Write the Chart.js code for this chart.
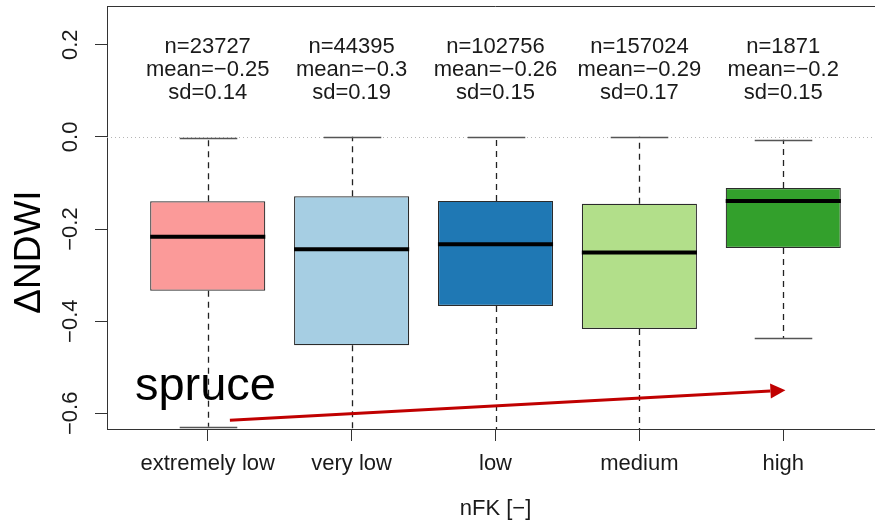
<!DOCTYPE html>
<html>
<head>
<meta charset="utf-8">
<script src="https://cdn.jsdelivr.net/npm/chart.js@4/dist/chart.umd.min.js"></script>
<style>
  html, body { margin: 0; padding: 0; overflow: hidden; background: #fff; }
  canvas { display: block; }
</style>
</head>
<body>
<canvas id="c" width="893" height="524"></canvas>
<script>
// nFK classes and summary statistics of ΔNDWI per class
const categories = ['extremely low', 'very low', 'low', 'medium', 'high'];
const counts = [23727, 44395, 102756, 157024, 1871];
const means = [-0.25, -0.3, -0.26, -0.29, -0.2];
const sds = [0.14, 0.19, 0.15, 0.17, 0.15];

// box-and-whisker values
const whiskerHigh = [-0.003, 0.0, 0.0, 0.0, -0.006];
const q3 = [-0.140, -0.129, -0.139, -0.145, -0.111];
const medians = [-0.217, -0.244, -0.233, -0.251, -0.139];
const q1 = [-0.334, -0.452, -0.367, -0.417, -0.241];
const whiskerLow = [-0.629, -0.720, -0.700, -0.710, -0.437];

const yTicks = [-0.6, -0.4, -0.2, 0.0, 0.2];
const boxColors = ['#FB9A99', '#A6CEE3', '#1F78B4', '#B2DF8A', '#33A02C'];

const FONT = "'Liberation Sans', Arial, sans-serif";
const INK = '#1a1a1a';
const AXIS = '#333333';

const fmt = v => (v < 0 ? '\u2212' : '') + String(Math.abs(v));

const boxExtras = {
  id: 'boxExtras',
  beforeDatasetsDraw(chart) {
    const { ctx, chartArea: a, scales: { x, y } } = chart;
    ctx.save();
    ctx.beginPath();
    ctx.rect(a.left, a.top, a.right - a.left, a.bottom - a.top);
    ctx.clip();

    // dotted reference line at zero
    const y0 = Math.round(y.getPixelForValue(0)) + 0.5;
    ctx.strokeStyle = '#b5b5b5';
    ctx.lineWidth = 1;
    ctx.setLineDash([1, 3]);
    ctx.beginPath();
    ctx.moveTo(a.left, y0);
    ctx.lineTo(a.right, y0);
    ctx.stroke();

    categories.forEach((c, i) => {
      const px = Math.round(x.getPixelForValue(i + 1)) + 0.5;
      // dashed whiskers
      ctx.setLineDash([6, 5]);
      ctx.strokeStyle = '#222';
      ctx.lineWidth = 1.3;
      ctx.beginPath();
      ctx.moveTo(px, y.getPixelForValue(q3[i]));
      ctx.lineTo(px, y.getPixelForValue(whiskerHigh[i]));
      ctx.moveTo(px, y.getPixelForValue(q1[i]));
      ctx.lineTo(px, y.getPixelForValue(whiskerLow[i]));
      ctx.stroke();
      // staples
      ctx.setLineDash([]);
      ctx.strokeStyle = '#555';
      ctx.lineWidth = 1.5;
      const hw = x.getPixelForValue(i + 1.2) - x.getPixelForValue(i + 1);
      ctx.beginPath();
      [whiskerHigh[i], whiskerLow[i]].forEach(v => {
        const py = Math.round(y.getPixelForValue(v)) + 0.5;
        ctx.moveTo(px - hw, py);
        ctx.lineTo(px + hw, py);
      });
      ctx.stroke();
    });
    ctx.restore();
  },
  afterDatasetsDraw(chart) {
    const { ctx, chartArea: a, scales: { x, y } } = chart;
    ctx.save();

    // medians
    ctx.strokeStyle = '#000';
    ctx.lineWidth = 4;
    categories.forEach((c, i) => {
      const py = y.getPixelForValue(medians[i]);
      ctx.beginPath();
      ctx.moveTo(x.getPixelForValue(i + 0.6), py);
      ctx.lineTo(x.getPixelForValue(i + 1.4), py);
      ctx.stroke();
    });

    // top frame line
    ctx.strokeStyle = AXIS;
    ctx.lineWidth = 1;
    ctx.beginPath();
    ctx.moveTo(a.left, Math.round(a.top) + 0.5);
    ctx.lineTo(a.right, Math.round(a.top) + 0.5);
    ctx.stroke();

    // per-class statistics
    ctx.fillStyle = INK;
    ctx.font = `22px ${FONT}`;
    ctx.textAlign = 'center';
    ctx.textBaseline = 'alphabetic';
    const top = y.getPixelForValue(0.2) + 8.3;
    categories.forEach((c, i) => {
      const px = x.getPixelForValue(i + 1);
      ctx.fillText('n=' + counts[i], px, top);
      ctx.fillText('mean=' + fmt(means[i]), px, top + 23);
      ctx.fillText('sd=' + fmt(sds[i]), px, top + 46);
    });

    // species label
    ctx.fillStyle = '#000';
    ctx.font = `47px ${FONT}`;
    ctx.textAlign = 'left';
    ctx.fillText('spruce', x.getPixelForValue(0.494), y.getPixelForValue(-0.5714));

    // trend arrow
    const x1 = x.getPixelForValue(1.154), y1 = y.getPixelForValue(-0.615);
    const x2 = x.getPixelForValue(5.015), y2 = y.getPixelForValue(-0.550);
    const ang = Math.atan2(y2 - y1, x2 - x1);
    const head = 15, half = 7.5;
    ctx.strokeStyle = '#C00000';
    ctx.fillStyle = '#C00000';
    ctx.lineWidth = 3;
    ctx.beginPath();
    ctx.moveTo(x1, y1);
    ctx.lineTo(x2 - head * Math.cos(ang), y2 - head * Math.sin(ang));
    ctx.stroke();
    ctx.beginPath();
    ctx.moveTo(x2, y2);
    ctx.lineTo(x2 - head * Math.cos(ang) + half * Math.sin(ang), y2 - head * Math.sin(ang) - half * Math.cos(ang));
    ctx.lineTo(x2 - head * Math.cos(ang) - half * Math.sin(ang), y2 - head * Math.sin(ang) + half * Math.cos(ang));
    ctx.closePath();
    ctx.fill();

    // y axis title
    ctx.fillStyle = '#000';
    ctx.font = `37px ${FONT}`;
    ctx.textAlign = 'center';
    ctx.translate(40, y.getPixelForValue(-0.25));
    ctx.rotate(-Math.PI / 2);
    ctx.fillText('\u0394NDWI', 0, 0);
    ctx.restore();
  }
};

const gridOpts = { drawOnChartArea: false, drawTicks: true, tickLength: 12, color: AXIS, lineWidth: 1, offset: false };
const borderOpts = { display: true, color: AXIS, width: 1 };

new Chart(document.getElementById('c'), {
  type: 'bar',
  data: {
    datasets: [{
      data: categories.map((c, i) => ({ x: i + 1, y: [q1[i], q3[i]] })),
      backgroundColor: boxColors,
      borderColor: '#2b2b2b',
      borderWidth: 1.2,
      borderSkipped: false,
      categoryPercentage: 1,
      barPercentage: 0.8
    }]
  },
  options: {
    responsive: false,
    animation: false,
    devicePixelRatio: 1,
    layout: { padding: { top: 6, right: 9, left: 0, bottom: 0 } },
    plugins: { legend: { display: false }, tooltip: { enabled: false } },
    scales: {
      x: {
        type: 'linear',
        min: 0.3,
        max: 5.7,
        offset: false,
        afterBuildTicks: s => { s.ticks = categories.map((c, i) => ({ value: i + 1 })); },
        afterFit: s => { s.height = 95; s.paddingLeft = 0; s.paddingRight = 0; },
        ticks: {
          callback: v => categories[v - 1],
          font: { family: FONT, size: 22 },
          color: INK,
          padding: 10,
          maxRotation: 0,
          autoSkip: false
        },
        grid: gridOpts,
        border: borderOpts,
        title: { display: true, text: 'nFK [\u2212]', font: { family: FONT, size: 22 }, color: INK, padding: { top: 0, bottom: 2 } }
      },
      y: {
        min: -0.634,
        max: 0.284,
        afterBuildTicks: s => { s.ticks = yTicks.map(v => ({ value: v })); },
        afterFit: s => { s.width = 107; s.paddingTop = 0; s.paddingBottom = 0; },
        ticks: {
          callback: v => (v < 0 ? '\u2212' : '') + Math.abs(v).toFixed(1),
          font: { family: FONT, size: 22 },
          color: INK,
          minRotation: 90,
          maxRotation: 90,
          crossAlign: 'center',
          padding: 2,
          autoSkip: false
        },
        grid: gridOpts,
        border: borderOpts
      }
    }
  },
  plugins: [boxExtras]
});
</script>
</body>
</html>
